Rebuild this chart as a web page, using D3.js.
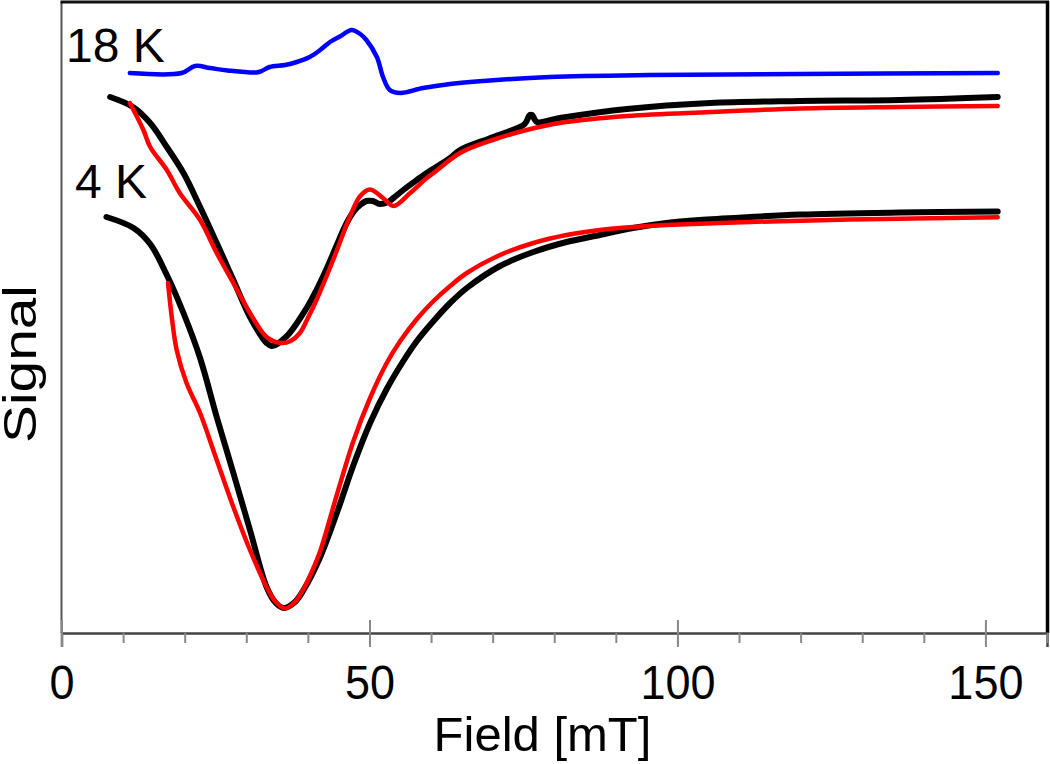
<!DOCTYPE html>
<html><head><meta charset="utf-8">
<script src="https://cdn.jsdelivr.net/npm/d3@7"></script>
<style>body{margin:0;background:#fff}svg{display:block}text{font-family:"Liberation Sans",Arial,sans-serif}</style>
</head><body><svg id="c" width="1050" height="764"></svg>
<script>
// Field (mT) / Signal (arb. units)
const black18Field = [7.9,11.6,14.4,17.1,19.8,22.5,25.2,27.9,30.6,33.3,34.2,36.6,39.8,41.4,43.1,44.7,46.3,47.5,48.5,49.5,50.5,51.7,53.0,53.9,55.5,57.7,59.3,63.1,64.7,70.1,75.2,76.0,76.4,77.2,80.9,91.8,105.3,119.9,136.1,152.0];
const black18Signal = [536,526,510,486,460,426,390,353,316,290,287,297,325,343,365,388,410,422,428,432,432,429,431,435,443,453,460,475,483,496,509,518,518,511,515,524,530,532,533,536];

const fit18Field = [11.1,13.3,14.4,17.1,19.2,22.5,25.2,27.9,30.6,33.3,35.6,37.2,38.7,40.0,41.4,44.1,46.8,48.5,50.1,52.2,53.9,56.6,59.3,60.4,64.7,70.0,75.5,80.9,91.8,105.3,119.9,136.1,152.0];
const fit18Signal = [530,503,486,463,440,413,380,350,320,296,290,292,300,315,333,373,416,437,443.5,435,427,440,455,460,480,493,503,510,517,521,524.5,526,527];

const black4Field = [7.3,11.7,14.4,17.1,19.8,22.5,25.2,27.9,30.6,33.3,34.8,36.1,37.9,39.3,42.0,44.7,47.4,50.1,52.8,55.5,57.7,60.4,63.1,65.8,71.2,76.6,82.0,87.4,92.8,98.2,103.6,111.8,119.9,136.1,152.0];
const black4Signal = [416,405,389,358,320,275,216,160,103,46,30,25,31,43,76,120,168,210,244,272,292,312,330,345,367,381,391,398,405,410,413,416,418.5,420.5,421.5];

const fit4Field = [17.3,17.9,18.7,20.3,22.5,25.2,27.9,30.6,33.3,34.8,36.3,37.9,39.3,40.7,42.0,44.7,47.4,50.1,52.8,55.0,57.7,60.4,63.1,65.8,71.2,76.6,82.0,87.4,92.8,98.2,111.8,128.0,152.0];
const fit4Signal = [350,316,283,250,220,173,126,83,46,31,24.5,31,44,62,82,138,192,235,270,292,314,332,347,360,378,390,398,403,406,408,411,413.5,415.7];

const blue18Field = [11.1,19.5,21.7,24.1,27.0,31.7,32.5,33.8,36.3,38.2,40.3,42.0,43.6,45.2,47.1,48.5,49.5,51.2,52.2,53.3,55.0,58.7,63.1,68.4,79.3,95.5,119.9,152.0];
const blue18Signal = [560,560,567,565,562.5,560.5,562,566,568,571,576,583,591,596.5,603,599,593,576,556,543,540,545,549,552,556,558,559,560];

const majorTicks = [0,50,100,150];
const minorTicks = [10,20,30,40,60,70,80,90,110,120,130,140,160];
const curveLabels = ["18 K","4 K"];
const xTitle = "Field [mT]";
const yTitle = "Signal";

const svg = d3.select("#c");
const x = d3.scaleLinear().domain([0,160]).range([61.5,1047]);
const y = d3.scaleLinear().domain([0,630]).range([633,3]);

const line = d3.line().x(d=>x(d[0])).y(d=>y(d[1])).curve(d3.curveCatmullRom.alpha(0.5));
const zip = (a,b)=>a.map((v,i)=>[v,b[i]]);

// frame
svg.append("line").attr("x1",61.5).attr("x2",61.5).attr("y1",2).attr("y2",633).attr("stroke","#555").attr("stroke-width",2);
svg.append("line").attr("x1",60.5).attr("x2",1049).attr("y1",2).attr("y2",2).attr("stroke","#111").attr("stroke-width",3);
svg.append("line").attr("x1",1047.5).attr("x2",1047.5).attr("y1",1).attr("y2",633).attr("stroke","#000").attr("stroke-width",3.5);

// axis
const ax = svg.append("g").attr("transform","translate(0,633)")
  .call(d3.axisBottom(x).tickValues(majorTicks).tickSize(14).tickPadding(17).tickFormat(d3.format("d")));
ax.select(".domain").attr("stroke","#444").attr("stroke-width",2.5);
ax.selectAll(".tick line").attr("y1",-13).attr("stroke","#888").attr("stroke-width",2);
ax.selectAll(".tick text").attr("font-size",45).attr("fill","#000").attr("font-family","Liberation Sans, Arial, sans-serif")
  .attr("transform","scale(1,1.05)");
svg.append("g").attr("transform","translate(0,633)")
  .call(d3.axisBottom(x).tickValues(minorTicks).tickSize(10).tickFormat(""))
  .call(g=>g.select(".domain").remove())
  .call(g=>g.selectAll(".tick line").attr("stroke","#888").attr("stroke-width",2));

// curves
const styles = {lineJoin:"round"};
function draw(f,s,color,w){
  svg.append("path").attr("d",line(zip(f,s))).attr("fill","none").attr("stroke",color)
    .attr("stroke-width",w).attr("stroke-linejoin","round").attr("stroke-linecap","round");
}
draw(blue18Field,blue18Signal,"#0000ff",4.5);
draw(black18Field,black18Signal,"#000",6);
draw(black4Field,black4Signal,"#000",6);
draw(fit18Field,fit18Signal,"#ff0000",4.5);
draw(fit4Field,fit4Signal,"#ff0000",4.5);

// labels
svg.append("text").attr("x",66).attr("y",62).attr("font-size",48).text(curveLabels[0]);
svg.append("text").attr("x",75).attr("y",198).attr("font-size",48).text(curveLabels[1]);
svg.append("text").attr("x",542.5).attr("y",751).attr("text-anchor","middle").attr("font-size",49).text(xTitle);
svg.append("text").attr("transform","translate(36,364) rotate(-90)").attr("text-anchor","middle").attr("font-size",47)
  .attr("textLength",158).attr("lengthAdjust","spacingAndGlyphs").text(yTitle);
</script></body></html>
